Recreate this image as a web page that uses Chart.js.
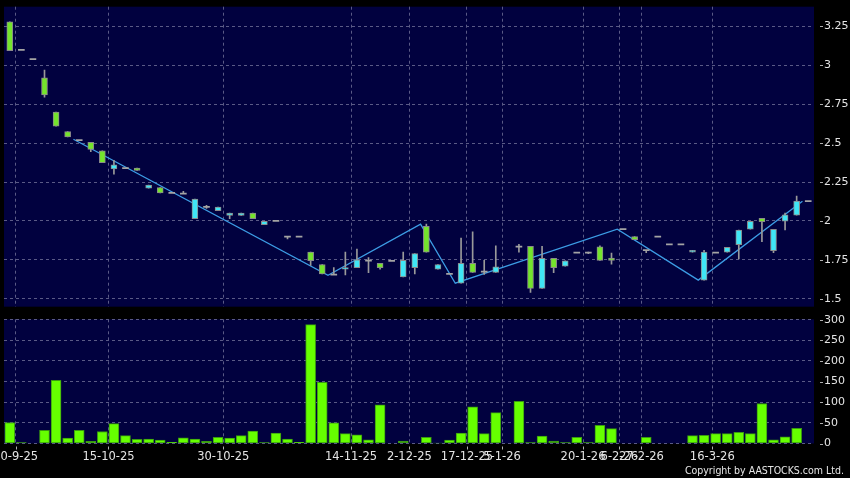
<!DOCTYPE html>
<html>
<head>
<meta charset="utf-8">
<script src="https://cdn.jsdelivr.net/npm/chart.js@4.4.1/dist/chart.umd.min.js"></script>
<style>
  html, body { margin: 0; padding: 0; background: #000; }
  #wrap { position: relative; width: 850px; height: 478px; overflow: hidden; background: #000; }
  #priceChart { position: absolute; left: 0; top: 0; }
  #volChart { position: absolute; left: 0; top: 312px; }
  #copy {
    position: absolute; right: 6px; top: 464px;
    font-family: "DejaVu Sans Condensed", "DejaVu Sans", sans-serif;
    font-stretch: condensed; font-size: 10.5px; line-height: 12px;
    color: #e6e6e6; white-space: nowrap;
  }
</style>
</head>
<body>
<div id="wrap">
  <canvas id="priceChart" width="850" height="312"></canvas>
  <canvas id="volChart" width="850" height="166"></canvas>
  <div id="copy">Copyright by AASTOCKS.com Ltd.</div>
</div>
<script>
// one slot per trading day, null = no record
const opens = [3.28, 3.10, 3.04, 2.92, 2.70, 2.575, 2.52, 2.505, 2.45, 2.335,
  2.34, 2.34, 2.21, 2.215, 2.18, 2.175, 2.015, 2.09, 2.066, 2.035,
  2.035, 2.05, 1.976, 2.0, 1.90, 1.90, 1.80, 1.72, 1.655, 1.69,
  1.70, 1.745, 1.728, 1.743, 1.64, 1.70, 1.966, 1.69, 1.66, 1.60,
  1.728, 1.674, 1.67, null, 1.835, 1.837, 1.567, 1.76, 1.709, 1.796,
  1.796, 1.833, 1.762, 1.947, 1.90, 1.812, 1.90, 1.85, 1.85, 1.80,
  1.62, 1.796, 1.80, 1.848, 1.947, 2.017, 1.809, 1.998, 2.037, 2.127];
const highs = [3.28, 3.10, 3.04, 2.97, 2.70, 2.575, 2.52, 2.505, 2.45, 2.39,
  2.34, 2.34, 2.23, 2.215, 2.18, 2.19, 2.14, 2.10, 2.09, 2.05,
  2.05, 2.05, 1.998, 2.0, 1.90, 1.90, 1.80, 1.72, 1.70, 1.80,
  1.82, 1.765, 1.728, 1.743, 1.80, 1.79, 1.98, 1.72, 1.66, 1.89,
  1.93, 1.747, 1.84, null, 1.85, 1.837, 1.837, 1.76, 1.743, 1.796,
  1.80, 1.84, 1.794, 1.947, 1.90, 1.812, 1.90, 1.85, 1.85, 1.812,
  1.812, 1.796, 1.83, 1.942, 1.998, 2.017, 1.947, 2.05, 2.16, 2.127];
const lows = [3.095, 3.10, 3.04, 2.795, 2.61, 2.54, 2.52, 2.445, 2.375, 2.30,
  2.34, 2.325, 2.21, 2.18, 2.18, 2.175, 2.015, 2.08, 2.066, 2.015,
  2.035, 2.015, 1.976, 2.0, 1.885, 1.90, 1.715, 1.66, 1.655, 1.653,
  1.70, 1.668, 1.69, 1.743, 1.64, 1.66, 1.80, 1.69, 1.66, 1.60,
  1.67, 1.657, 1.67, null, 1.80, 1.54, 1.567, 1.668, 1.709, 1.796,
  1.79, 1.747, 1.722, 1.947, 1.88, 1.796, 1.90, 1.85, 1.85, 1.80,
  1.62, 1.796, 1.80, 1.756, 1.947, 1.867, 1.796, 1.942, 2.037, 2.127];
const closes = [3.095, 3.10, 3.04, 2.81, 2.61, 2.54, 2.52, 2.46, 2.375, 2.36,
  2.34, 2.325, 2.23, 2.18, 2.18, 2.175, 2.14, 2.09, 2.09, 2.05,
  2.05, 2.015, 1.998, 2.0, 1.90, 1.90, 1.745, 1.66, 1.655, 1.70,
  1.75, 1.745, 1.70, 1.743, 1.747, 1.79, 1.80, 1.72, 1.66, 1.728,
  1.67, 1.674, 1.706, null, 1.835, 1.567, 1.76, 1.70, 1.743, 1.796,
  1.796, 1.747, 1.747, 1.947, 1.88, 1.812, 1.90, 1.85, 1.85, 1.812,
  1.80, 1.796, 1.83, 1.942, 1.998, 1.996, 1.947, 2.039, 2.127, 2.127];
const volumes = [51, 2, 0, 32, 153, 13, 32, 5, 29, 48,
  19, 10, 11, 8, 3, 14, 11, 5, 15, 13,
  19, 30, 2, 25, 11, 3, 288, 148, 50, 24,
  21, 9, 94, 0, 6, 0, 15, 1, 8, 25,
  89, 24, 75, 0, 102, 2, 18, 6, 2, 15,
  2, 44, 36, 0, 0, 15, 0, 0, 0, 19,
  20, 24, 24, 27, 24, 97, 9, 16, 37, 0];

// zigzag turning points (slot, price)
const zigSlots = [6, 28, 36, 39, 53, 60, 69];
const zigValues = [2.525, 1.651, 1.98, 1.60, 1.947, 1.62, 2.127];

// axis ticks
const priceTicks = [1.5, 1.75, 2, 2.25, 2.5, 2.75, 3, 3.25];
const volTicks = [0, 50, 100, 150, 200, 250, 300];
const tickPos = [0.5, 8.53, 18.45, 29.49, 34.53, 39.51, 42.54, 49.54, 52.68, 54.59, 60.71];
const tickLabels = ['30-9-25', '15-10-25', '30-10-25', '14-11-25', '2-12-25', '17-12-25',
  '5-1-26', '20-1-26', '6-2-26', '27-2-26', '16-3-26'];

const NAVY = '#01013f';
const GRID = '#5a5a86';
const UP = '#3fe6f6';
const DOWN = '#74e42c';
const EDGE = '#8a8a8a';
const TEXT = '#e4e4e4';

const panelBg = {
  id: 'panelBg',
  beforeDraw(chart) {
    const { ctx, chartArea: a } = chart;
    ctx.save();
    ctx.fillStyle = NAVY;
    ctx.fillRect(a.left, a.top, a.right - a.left, a.bottom - a.top);
    ctx.restore();
  }
};

// little tick marks sitting just off the plot, like the original
const tickMarks = {
  id: 'tickMarks',
  afterDraw(chart) {
    const { ctx, chartArea: a, scales } = chart;
    ctx.save();
    ctx.strokeStyle = '#b0b0b0';
    ctx.lineWidth = 1;
    ctx.beginPath();
    scales.y.ticks.forEach(t => {
      const y = Math.round(scales.y.getPixelForValue(t.value)) + 0.5;
      ctx.moveTo(a.right + 6, y);
      ctx.lineTo(a.right + 9, y);
    });
    if (chart.options.showDateTicks) {
      scales.x.ticks.forEach(t => {
        const x = Math.round(scales.x.getPixelForValue(t.value)) + 0.5;
        ctx.moveTo(x, a.bottom + 3);
        ctx.lineTo(x, a.bottom + 6);
      });
    }
    ctx.stroke();
    ctx.restore();
  }
};

function dateAxis(showLabels) {
  return {
    type: 'linear',
    min: -0.5,
    max: 69.5,
    offset: false,
    afterBuildTicks: s => { s.ticks = tickPos.map(v => ({ value: v })); },
    afterFit: s => {
      s.height = showLabels ? 34.5 : 0;
      s.paddingLeft = 0;
      s.paddingRight = 0;
    },
    ticks: {
      display: showLabels,
      autoSkip: false,
      maxRotation: 0,
      padding: 7,
      color: TEXT,
      font: { family: 'DejaVu Sans', size: 11.5 },
      callback: (v, i) => tickLabels[i]
    },
    grid: { color: GRID, drawTicks: false, offset: false },
    border: { display: false, dash: [3, 3] }
  };
}

function valueAxis(min, max, tickList) {
  return {
    position: 'right',
    min, max,
    afterBuildTicks: s => { s.ticks = tickList.map(v => ({ value: v })); },
    afterFit: s => { s.width = 36; s.paddingTop = 0; s.paddingBottom = 0; },
    ticks: {
      padding: 10,
      color: TEXT,
      font: { family: 'DejaVu Sans', size: 11 },
      callback: v => String(v)
    },
    grid: { color: GRID, drawTicks: false },
    border: { display: false, dash: [3, 3] }
  };
}

try {
  const wickData = [], bodyData = [], bodyColors = [], dashData = [];
  opens.forEach((o, i) => {
    if (o === null) return;
    const c = closes[i];
    if (highs[i] > lows[i]) wickData.push({ x: i, y: [lows[i], highs[i]] });
    if (o === c) {
      dashData.push({ x: i, y: [c - 0.0035, c + 0.0035] });
    } else {
      bodyData.push({ x: i, y: [o, c] });
      bodyColors.push(c > o ? UP : DOWN);
    }
  });
  const zigData = zigSlots.map((s, k) => ({ x: s - 0.5, y: zigValues[k] }));

  new Chart(document.getElementById('priceChart'), {
    type: 'bar',
    data: {
      datasets: [
        { type: 'line', data: zigData, borderColor: '#3c9ce4', borderWidth: 1.3,
          pointRadius: 0, fill: false, tension: 0, order: 10 },
        { data: wickData, backgroundColor: '#9a9a9a', barThickness: 1, grouped: false, order: 5 },
        { data: dashData, backgroundColor: '#a4a4a4', barThickness: 6, grouped: false, order: 4 },
        { data: bodyData, backgroundColor: bodyColors, borderColor: EDGE, borderWidth: 1,
          borderSkipped: false, barThickness: 6, grouped: false, order: 2 }
      ]
    },
    options: {
      responsive: false,
      animation: false,
      layout: { padding: { left: 4, top: 6.7, bottom: 5.3, right: 0 } },
      scales: {
        x: dateAxis(false),
        y: valueAxis(1.449, 3.377, priceTicks)
      },
      plugins: { legend: { display: false }, tooltip: { enabled: false } }
    },
    plugins: [panelBg, tickMarks]
  });

  new Chart(document.getElementById('volChart'), {
    type: 'bar',
    data: {
      datasets: [{
        data: volumes.map((v, i) => ({ x: i, y: v })).filter(p => p.y > 0),
        backgroundColor: '#66ff00',
        borderColor: '#3a9a10',
        borderWidth: 1,
        borderSkipped: false,
        barThickness: 10
      }]
    },
    options: {
      responsive: false,
      animation: false,
      showDateTicks: true,
      layout: { padding: { left: 4, top: 7.3, bottom: 0, right: 0 } },
      scales: {
        x: dateAxis(true),
        y: valueAxis(0, 301, volTicks)
      },
      plugins: { legend: { display: false }, tooltip: { enabled: false } }
    },
    plugins: [panelBg, tickMarks]
  });
} catch (err) {
  console.error('Chart error:', err);
}
</script>
</body>
</html>
